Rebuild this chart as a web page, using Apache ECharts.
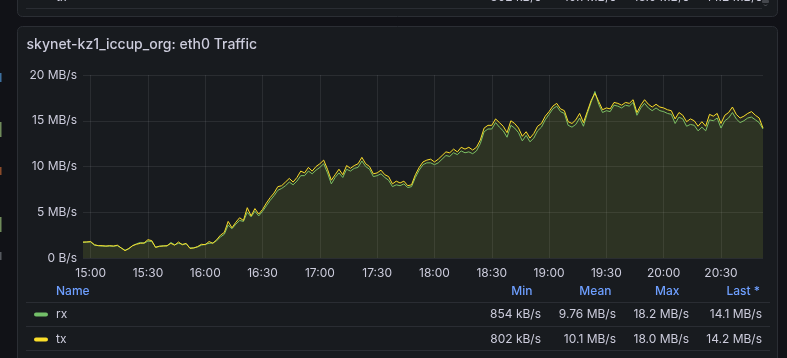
<!DOCTYPE html>
<html><head><meta charset="utf-8">
<script src="https://cdn.jsdelivr.net/npm/echarts@6/dist/echarts.min.js"></script>
<style>html,body{margin:0;padding:0;background:#111217;}#c{width:787px;height:358px;}</style>
</head><body><div id="c"></div>
<script>
// ---- data ----
const START_TIME = [14, 56];      // first sample (hh, mm)
const STEP_MINUTES = 2;           // sample spacing
const X_TICK_LABELS = ['15:00','15:30','16:00','16:30','17:00','17:30','18:00','18:30','19:00','19:30','20:00','20:30'];
const Y_TICK_VALUES = [0, 5, 10, 15, 20];
const Y_TICK_LABELS = ['0 B/s', '5 MB/s', '10 MB/s', '15 MB/s', '20 MB/s'];
const SERIES_NAMES = ['rx', 'tx'];

// MB/s
const rx = [
 1.7,1.75,1.75,1.4,1.35,1.3,1.3,1.3,1.3,1.35,
 1.1,0.85,1.0,1.35,1.55,1.7,1.6,1.85,1.8,1.2,
 1.25,1.35,1.3,1.7,1.45,1.6,1.5,1.55,1.1,1.1,
 1.2,1.4,1.5,1.6,1.65,1.9,2.3,2.6,3.6,3.2,
 3.7,4.1,4.0,5.0,4.5,5.1,4.6,5.1,5.7,6.3,
 6.8,7.4,7.6,7.9,8.3,8.0,8.4,9.0,9.0,9.5,
 9.2,9.6,9.9,10.3,9.3,8.1,8.8,9.3,8.8,9.7,
 9.5,9.8,9.9,10.6,10.0,9.7,8.9,9.0,9.2,8.8,
 8.5,7.8,8.0,7.9,8.1,7.7,7.8,8.8,9.6,10.2,
 10.4,10.4,10.2,10.4,10.8,11.2,11.1,11.5,11.3,11.7,
 11.5,11.6,11.4,11.7,12.5,13.8,14.1,14.1,14.8,14.3,
 13.9,13.2,14.5,14.2,13.7,12.8,13.4,12.7,13.1,13.9,
 14.3,15.1,15.7,16.3,16.6,16.0,15.8,14.5,14.3,14.6,
 15.3,14.4,15.8,17.0,18.2,16.8,15.9,16.1,16.0,16.7,
 16.6,16.4,16.7,16.6,17.0,15.6,16.4,16.9,16.4,16.1,
 16.4,16.1,16.0,15.8,15.7,14.7,15.4,15.2,14.4,14.6,
 14.5,13.9,14.3,13.9,15.1,15.0,15.3,14.2,15.0,15.3,
 15.9,15.2,14.8,15.0,15.3,15.4,15.1,14.8,14.1
];
const tx = [
 1.75,1.75,1.8,1.45,1.35,1.35,1.3,1.35,1.3,1.4,
 1.1,0.8,1.05,1.35,1.5,1.6,1.65,2.0,1.9,1.15,
 1.3,1.3,1.35,1.6,1.4,1.75,1.45,1.6,1.05,1.1,
 1.25,1.5,1.45,1.8,1.6,2.0,2.5,2.8,4.0,3.3,
 3.9,4.4,4.1,5.5,4.6,5.4,4.8,5.3,6.0,6.6,
 7.1,7.8,7.9,8.3,8.7,8.3,8.8,9.5,9.3,9.9,
 9.5,10.0,10.3,10.7,9.7,8.5,9.1,9.7,9.1,10.1,
 9.8,10.1,10.3,11.0,10.3,10.0,9.2,9.3,9.6,9.1,
 8.9,8.1,8.4,8.2,8.4,7.9,8.0,9.1,9.9,10.5,
 10.7,10.8,10.5,10.8,11.2,11.6,11.5,11.9,11.6,12.1,
 11.9,12.1,11.8,12.1,12.9,14.2,14.5,14.5,15.2,14.8,
 14.4,13.7,15.0,14.7,14.2,13.3,13.8,13.1,13.6,14.4,
 14.7,15.5,16.0,16.6,16.9,16.3,16.1,14.9,14.7,15.1,
 15.8,14.8,16.0,17.2,18.0,17.1,16.2,16.4,16.3,17.0,
 16.9,16.7,17.0,16.9,17.3,15.9,16.7,17.3,16.8,16.5,
 16.8,16.5,16.4,16.2,16.1,15.2,15.9,15.6,14.9,15.2,
 15.0,14.4,14.9,14.4,15.7,15.5,15.8,14.7,15.6,15.9,
 16.5,15.7,15.3,15.5,15.8,16.0,15.6,15.3,14.2
];

const LEGEND_HEADERS = ['Name', 'Min', 'Mean', 'Max', 'Last *'];
const RX_STATS = ['854 kB/s', '9.76 MB/s', '18.2 MB/s', '14.1 MB/s'];
const TX_STATS = ['802 kB/s', '10.1 MB/s', '18.0 MB/s', '14.2 MB/s'];
const TITLE = 'skynet-kz1_iccup_org: eth0 Traffic';

// ---- build ----
const pad = n => (n < 10 ? '0' : '') + n;
const categories = rx.map((_, i) => {
  const m = START_TIME[0] * 60 + START_TIME[1] + i * STEP_MINUTES;
  return pad(Math.floor(m / 60)) + ':' + pad(m % 60);
});
const isTick = (idx, val) => X_TICK_LABELS.indexOf(val) >= 0;

const TXT = '#ccccdc';
const BLUE = '#6e9fff';
const FONT = 'Inter, "Noto Sans", sans-serif';
const BORDER = '#2a2d33';

function text(t, x, y, opts) {
  return Object.assign({
    type: 'text', z: 10,
    style: Object.assign({ text: t, x: x, y: y, fill: TXT, font: '12px ' + FONT, align: 'left', verticalAlign: 'middle' }, opts || {})
  });
}
function hline(x1, x2, y, color) {
  return { type: 'line', z: 10, shape: { x1: x1, y1: y, x2: x2, y2: y }, style: { stroke: color || BORDER, lineWidth: 1 } };
}

const headerRight = [532.5, 611.5, 679.5, 760];
const valueRight = [541, 616, 689, 762];

const graphics = [
  // previous panel (cut off at top)
  { type: 'rect', z: -20, shape: { x: 17.5, y: -12, width: 760, height: 28.5, r: 5 }, style: { fill: '#181b1f', stroke: '#2b2e34', lineWidth: 1 } },
  hline(26, 762, 8.5),
  { type: 'rect', z: 10, shape: { x: 762, y: 0, width: 7, height: 3, r: 1 }, style: { fill: '#44474d' } },
  { type: 'polyline', z: 10, shape: { points: [[764, 4.5], [765.5, 6], [767, 4.5]] }, style: { stroke: '#55585e', lineWidth: 1, fill: null } },
  text('tx', 56, -3),
  text(TX_STATS[0], valueRight[0], -3, { align: 'right' }),
  text(TX_STATS[1], valueRight[1], -3, { align: 'right' }),
  text(TX_STATS[2], valueRight[2], -3, { align: 'right' }),
  text(TX_STATS[3], valueRight[3], -3, { align: 'right' }),
  // this panel
  { type: 'rect', z: -20, shape: { x: 17.5, y: 26.5, width: 760, height: 345, r: 5 }, style: { fill: '#181b1f', stroke: '#2b2e34', lineWidth: 1 } },
  text(TITLE, 26.5, 44.5, { font: '500 14px ' + FONT }),
  // legend table
  text(LEGEND_HEADERS[0], 56, 291, { fill: BLUE, font: '500 12px ' + FONT }),
  text(LEGEND_HEADERS[1], headerRight[0], 291, { fill: BLUE, font: '500 12px ' + FONT, align: 'right' }),
  text(LEGEND_HEADERS[2], headerRight[1], 291, { fill: BLUE, font: '500 12px ' + FONT, align: 'right' }),
  text(LEGEND_HEADERS[3], headerRight[2], 291, { fill: BLUE, font: '500 12px ' + FONT, align: 'right' }),
  text(LEGEND_HEADERS[4], headerRight[3], 291, { fill: BLUE, font: '500 12px ' + FONT, align: 'right' }),
  hline(26, 770, 302.5), hline(26, 770, 326.5), hline(26, 770, 350.5),
  { type: 'rect', z: 10, shape: { x: 34, y: 312.5, width: 14, height: 4, r: 2 }, style: { fill: '#73bf69' } },
  { type: 'rect', z: 10, shape: { x: 34, y: 337.5, width: 14, height: 4, r: 2 }, style: { fill: '#fade2a' } },
  text(SERIES_NAMES[0], 56, 314.5),
  text(SERIES_NAMES[1], 56, 339.5),
  // left neighbour slivers
  { type: 'rect', z: 10, shape: { x: 0, y: 73, width: 1.5, height: 9 }, style: { fill: '#3d6f9e' } },
  { type: 'rect', z: 10, shape: { x: 0, y: 122, width: 1.5, height: 15 }, style: { fill: '#6f8a5a' } },
  { type: 'rect', z: 10, shape: { x: 0, y: 167, width: 1.5, height: 8 }, style: { fill: '#8a4a2a' } },
  { type: 'rect', z: 10, shape: { x: 0, y: 217, width: 1.5, height: 15 }, style: { fill: '#6f8a5a' } },
  { type: 'rect', z: 10, shape: { x: 0, y: 252, width: 1.5, height: 8 }, style: { fill: '#55585e' } }
];
RX_STATS.forEach((s, k) => graphics.push(text(s, valueRight[k], 314.5, { align: 'right' })));
TX_STATS.forEach((s, k) => graphics.push(text(s, valueRight[k], 339.5, { align: 'right' })));

const chart = echarts.init(document.getElementById('c'), null, { renderer: 'canvas' });
chart.setOption({
  backgroundColor: '#111217',
  animation: false,
  textStyle: { fontFamily: FONT },
  grid: { left: 83, right: 24, top: 75, bottom: 100, containLabel: false },
  xAxis: {
    type: 'category', data: categories, boundaryGap: false,
    axisLine: { show: false },
    axisTick: { show: false, interval: isTick },
    axisLabel: { interval: isTick, color: TXT, fontSize: 12, fontFamily: FONT, margin: 9 },
    splitLine: { show: true, interval: isTick, lineStyle: { color: 'rgba(204,204,220,0.1)', width: 1 } }
  },
  yAxis: {
    type: 'value', min: 0, max: 20, interval: 5,
    axisLine: { show: false }, axisTick: { show: false },
    axisLabel: { color: TXT, fontSize: 12, fontFamily: FONT, margin: 6,
      formatter: v => Y_TICK_LABELS[Y_TICK_VALUES.indexOf(v)] },
    splitLine: { lineStyle: { color: 'rgba(204,204,220,0.1)', width: 1 } }
  },
  series: [
    { name: SERIES_NAMES[0], type: 'line', data: rx, showSymbol: false, symbol: 'none',
      lineStyle: { color: '#73bf69', width: 1 }, itemStyle: { color: '#73bf69' },
      areaStyle: { color: 'rgba(115,191,105,0.1)' }, z: 3 },
    { name: SERIES_NAMES[1], type: 'line', data: tx, showSymbol: false, symbol: 'none',
      lineStyle: { color: '#fade2a', width: 1 }, itemStyle: { color: '#fade2a' },
      areaStyle: { color: 'rgba(250,222,42,0.1)' }, z: 4 }
  ],
  graphic: { elements: graphics }
});
</script>
</body></html>
